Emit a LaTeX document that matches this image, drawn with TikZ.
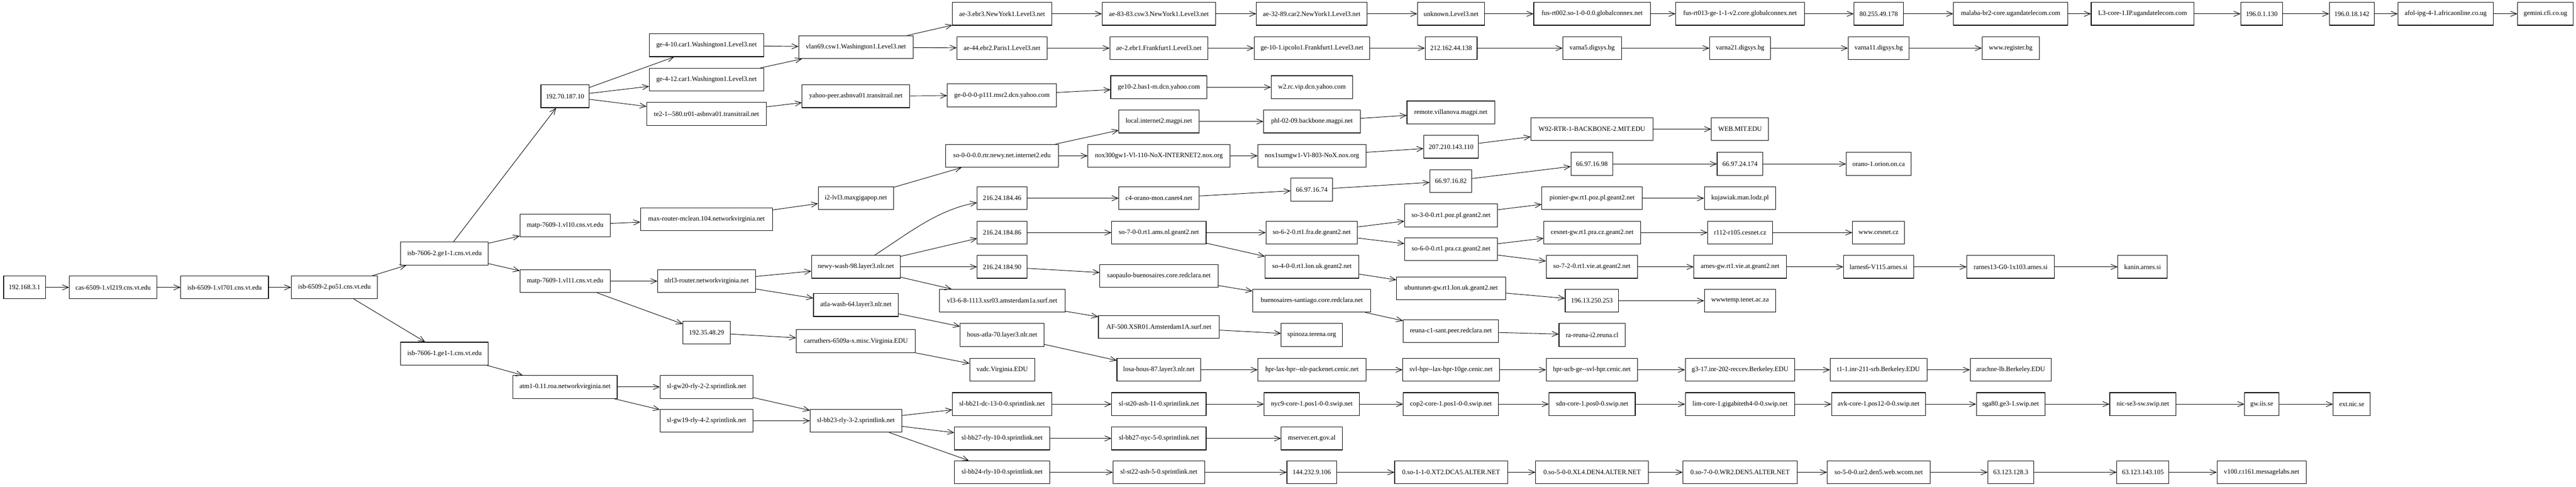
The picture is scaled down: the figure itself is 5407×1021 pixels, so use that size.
\documentclass[tikz,border=0pt]{standalone}
\usepackage{fontspec}
\setmainfont{Liberation Serif}
\usetikzlibrary{arrows.meta}
\tikzset{
  nd/.style={draw, line width=1.2pt, minimum height=48pt, inner sep=2pt, font=\fontsize{14}{16}\selectfont},
  edge/.style={line width=1pt, -{Straight Barb[length=13pt,width=11pt,line width=1pt]}}
}
\newcommand\mynode[5]{\node[nd,minimum width=#4pt] (#1) at (#2,#3) {#5};}
\begin{document}
\begin{tikzpicture}[x=1pt,y=-1pt]
\useasboundingbox (0,0) rectangle (5407,1021);
% column 1-4
\mynode{a1}{51.6}{603}{88}{192.168.3.1}
\mynode{a2}{237.5}{603}{184}{cas-6509-1.vl219.cns.vt.edu}
\mynode{a3}{471.4}{603}{184}{isb-6509-1.vl701.cns.vt.edu}
\mynode{a4}{702}{603}{181}{isb-6509-2.po51.cns.vt.edu}
\mynode{b1}{933}{532}{184}{isb-7606-2.ge1-1.cns.vt.edu}
\mynode{b2}{933}{742}{184}{isb-7606-1.ge1-1.cns.vt.edu}
\mynode{c1}{1186}{202}{101}{192.70.187.10}
\mynode{c2}{1186}{473}{189}{matp-7609-1.vl10.cns.vt.edu}
\mynode{c3}{1186}{590}{189}{matp-7609-1.vl11.cns.vt.edu}
\mynode{c4}{1186}{812}{219}{atm1-0.11.roa.networkvirginia.net}
\mynode{d1}{1483}{95}{240}{ge-4-10.car1.Washington1.Level3.net}
\mynode{d2}{1483}{167}{240}{ge-4-12.car1.Washington1.Level3.net}
\mynode{d3}{1483}{239}{251}{te2-1-{}-580.tr01-asbnva01.transitrail.net}
\mynode{d4}{1483}{460}{277}{max-router-mclean.104.networkvirginia.net}
\mynode{d5}{1483}{590}{205}{nlrl3-router.networkvirginia.net}
\mynode{d6}{1483}{698}{99}{192.35.48.29}
\mynode{d7}{1483}{812}{195}{sl-gw20-rly-2-2.sprintlink.net}
\mynode{d8}{1483}{883}{195}{sl-gw19-rly-4-2.sprintlink.net}
\mynode{e1}{1796.5}{99}{240}{vlan69.csw1.Washington1.Level3.net}
\mynode{e2}{1796.5}{202}{226}{yahoo-peer.asbnva01.transitrail.net}
\mynode{e3}{1796.5}{416}{158}{i2-lvl3.maxgigapop.net}
\mynode{e4}{1796.5}{560}{186}{newy-wash-98.layer3.nlr.net}
\mynode{e5}{1796.5}{640}{178}{atla-wash-64.layer3.nlr.net}
\mynode{e6}{1796.5}{716}{250}{carruthers-6509a-x.misc.Virginia.EDU}
\mynode{e7}{1796.5}{883}{192}{sl-bb23-rly-3-2.sprintlink.net}
% column f
\mynode{f1}{2103.3}{29}{208}{ae-3.ebr3.NewYork1.Level3.net}
\mynode{f2}{2103}{101}{189}{ae-44.ebr2.Paris1.Level3.net}
\mynode{f3}{2103}{200}{229}{ge-0-0-0-p111.msr2.dcn.yahoo.com}
\mynode{f4}{2103}{327}{237}{so-0-0-0.0.rtr.newy.net.internet2.edu}
\mynode{f5}{2103.3}{416}{104}{216.24.184.46}
\mynode{f6}{2103.3}{488}{104}{216.24.184.86}
\mynode{f7}{2103.3}{560}{104}{216.24.184.90}
\mynode{f8}{2103.5}{631}{264}{vl3-6-8-1113.xsr03.amsterdam1a.surf.net}
\mynode{f9}{2103.3}{703}{176}{hous-atla-70.layer3.nlr.net}
\mynode{f10}{2103.5}{776}{136}{vadc.Virginia.EDU}
\mynode{f11}{2103.3}{848}{208}{sl-bb21-dc-13-0-0.sprintlink.net}
\mynode{f12}{2103.3}{920}{200}{sl-bb27-rly-10-0.sprintlink.net}
\mynode{f13}{2103.3}{991}{200}{sl-bb24-rly-10-0.sprintlink.net}
% column g
\mynode{g1}{2432.5}{29}{238}{ae-83-83.csw3.NewYork1.Level3.net}
\mynode{g2}{2432.5}{101}{206}{ae-2.ebr1.Frankfurt1.Level3.net}
\mynode{g3}{2432.5}{183}{202}{ge10-2.bas1-m.dcn.yahoo.com}
\mynode{g4}{2432.5}{255}{168}{local.internet2.magpi.net}
\mynode{g5}{2432.5}{327}{298}{nox300gw1-Vl-110-NoX-INTERNET2.nox.org}
\mynode{g6}{2432.5}{416}{168}{c4-orano-mon.canet4.net}
\mynode{g7}{2432.5}{488}{198}{so-7-0-0.rt1.ams.nl.geant2.net}
\mynode{g8}{2432.5}{579}{248}{saopaulo-buenosaires.core.redclara.net}
\mynode{g9}{2432.5}{686}{254}{AF-500.XSR01.Amsterdam1A.surf.net}
\mynode{g10}{2432.5}{776}{176}{losa-hous-87.layer3.nlr.net}
\mynode{g11}{2432.5}{848}{198}{sl-st20-ash-11-0.sprintlink.net}
\mynode{g12}{2432.5}{920}{198}{sl-bb27-nyc-5-0.sprintlink.net}
\mynode{g13}{2432.5}{991}{192}{sl-st22-ash-5-0.sprintlink.net}
% column h
\mynode{h1}{2753.3}{29}{232}{ae-32-89.car2.NewYork1.Level3.net}
\mynode{h2}{2753.8}{101}{243}{ge-10-1.ipcolo1.Frankfurt1.Level3.net}
\mynode{h3}{2753.8}{183}{171}{w2.rc.vip.dcn.yahoo.com}
\mynode{h4}{2753.8}{255}{203}{phl-02-09.backbone.magpi.net}
\mynode{h5}{2753.8}{327}{227}{nox1sumgw1-Vl-803-NoX.nox.org}
\mynode{h6}{2753.3}{398}{88}{66.97.16.74}
\mynode{h7}{2753.3}{488}{192}{so-6-2-0.rt1.fra.de.geant2.net}
\mynode{h8}{2753.8}{560}{197}{so-4-0-0.rt1.lon.uk.geant2.net}
\mynode{h9}{2753.3}{631}{248}{buenosaires-santiago.core.redclara.net}
\mynode{h10}{2753.3}{703}{128}{spinoza.terena.org}
\mynode{h11}{2753.8}{776}{227}{hpr-lax-hpr-{}-nlr-packenet.cenic.net}
\mynode{h12}{2753.3}{848}{200}{nyc9-core-1.pos1-0-0.swip.net}
\mynode{h13}{2753.3}{920}{128}{mserver.ert.gov.al}
\mynode{h14}{2753.3}{991}{104}{144.232.9.106}
% column i
\mynode{i1}{3045.8}{29}{141}{unknown.Level3.net}
\mynode{i2}{3045.8}{101}{109}{212.162.44.138}
\mynode{i3}{3045.3}{236}{184}{remote.villanova.magpi.net}
\mynode{i4}{3045.8}{308}{115}{207.210.143.110}
\mynode{i5}{3045.3}{380}{88}{66.97.16.82}
\mynode{i6}{3045.8}{452}{195}{so-3-0-0.rt1.poz.pl.geant2.net}
\mynode{i7}{3045.8}{523}{195}{so-6-0-0.rt1.pra.cz.geant2.net}
\mynode{i8}{3045.8}{605}{229}{ubuntunet-gw.rt1.lon.uk.geant2.net}
\mynode{i9}{3045.3}{695}{200}{reuna-c1-sant.peer.redclara.net}
\mynode{i10}{3045.8}{776}{203}{svl-hpr-{}-lax-hpr-10ge.cenic.net}
\mynode{i11}{3045.3}{848}{200}{cop2-core-1.pos1-0-0.swip.net}
\mynode{i12}{3045.8}{991}{237}{0.so-1-1-0.XT2.DCA5.ALTER.NET}
% column j
\mynode{j1}{3341.8}{29}{245}{fus-rt002.so-1-0-0.0.globalconnex.net}
\mynode{j2}{3341.8}{101}{123}{varna5.digsys.bg}
\mynode{j3}{3341.3}{271}{256}{W92-RTR-1-BACKBONE-2.MIT.EDU}
\mynode{j4}{3341.3}{344}{88}{66.97.16.98}
\mynode{j5}{3341.8}{416}{211}{pionier-gw.rt1.poz.pl.geant2.net}
\mynode{j6}{3341.8}{488}{203}{cesnet-gw.rt1.pra.cz.geant2.net}
\mynode{j7}{3341.3}{560}{192}{so-7-2-0.rt1.vie.at.geant2.net}
\mynode{j8}{3341.3}{631}{112}{196.13.250.253}
\mynode{j9}{3341.8}{703}{139}{ra-reuna-i2.reuna.cl}
\mynode{j10}{3341.3}{776}{192}{hpr-ucb-ge-{}-svl-hpr.cenic.net}
\mynode{j11}{3341.8}{848}{181}{sdn-core-1.pos0-0.swip.net}
\mynode{j12}{3341.8}{991}{237}{0.so-5-0-0.XL4.DEN4.ALTER.NET}
% column k
\mynode{k1}{3652.3}{29}{270}{fus-rt013-ge-1-1-v2.core.globalconnex.net}
\mynode{k2}{3652.5}{101}{128}{varna21.digsys.bg}
\mynode{k3}{3652.3}{271}{120}{WEB.MIT.EDU}
\mynode{k4}{3652.3}{344}{96}{66.97.24.174}
\mynode{k5}{3652.3}{416}{150}{kujawiak.man.lodz.pl}
\mynode{k6}{3652.5}{488}{136}{r112-r105.cesnet.cz}
\mynode{k7}{3652.3}{560}{194}{arnes-gw.rt1.vie.at.geant2.net}
\mynode{k8}{3652.3}{631}{150}{wwwtemp.tenet.ac.za}
\mynode{k9}{3652.3}{776}{230}{g3-17.inr-202-reccev.Berkeley.EDU}
\mynode{k10}{3652.3}{848}{230}{lim-core-1.gigabiteth4-0-0.swip.net}
\mynode{k11}{3652.3}{991}{240}{0.so-7-0-0.WR2.DEN5.ALTER.NET}
% column l
\mynode{l1}{3943.3}{29}{104}{80.255.49.178}
\mynode{l2}{3943.3}{101}{128}{varna11.digsys.bg}
\mynode{l3}{3943.3}{344}{136}{orano-1.orion.on.ca}
\mynode{l4}{3943}{488}{109}{www.cesnet.cz}
\mynode{l5}{3943}{560}{147}{larnes6-V115.arnes.si}
\mynode{l6}{3943}{776}{203}{t1-1.inr-211-srb.Berkeley.EDU}
\mynode{l7}{3943}{848}{197}{avk-core-1.pos12-0-0.swip.net}
\mynode{l8}{3943.3}{991}{216}{so-5-0-0.ur2.den5.web.wcom.net}
% column m
\mynode{m1}{4220.3}{29}{240}{malaba-br2-core.ugandatelecom.com}
\mynode{m2}{4220.3}{101}{120}{www.register.bg}
\mynode{m3}{4220.3}{560}{184}{rarnes13-G0-1x103.arnes.si}
\mynode{m4}{4220.3}{776}{170}{arachne-lb.Berkeley.EDU}
\mynode{m5}{4220.3}{848}{144}{sga80.ge3-1.swip.net}
\mynode{m6}{4220.5}{991}{96}{63.123.128.3}
% column n
\mynode{n1}{4497.3}{29}{216}{L3-core-1.IP.ugandatelecom.com}
\mynode{n2}{4497.3}{560}{104}{kanin.arnes.si}
\mynode{n3}{4497.8}{848}{139}{nic-se3-sw.swip.net}
\mynode{n4}{4497.8}{991}{109}{63.123.143.105}
% columns o-r
\mynode{o1}{4747.3}{29}{88}{196.0.1.130}
\mynode{o2}{4747.3}{848}{72}{gw.iis.se}
\mynode{o3}{4747}{991}{187}{v100.r.t161.messagelabs.net}
\mynode{p1}{4936.3}{29}{94}{196.0.18.142}
\mynode{p2}{4936.3}{848}{78}{ext.nic.se}
\mynode{q1}{5133.3}{29}{200}{afol-ipg-4-1.africaonline.co.ug}
\mynode{r1}{5342.8}{29}{117}{gemini.cfi.co.ug}
% edges
\foreach \s/\t in {a1/a2,a2/a3,a3/a4,a4/b1,a4/b2,
  b1/c1,b1/c2,b1/c3,b2/c4,
  c1/d1,c1/d2,c1/d3,c2/d4,c3/d5,c3/d6,c4/d7,c4/d8,
  d1/e1,d2/e1,d3/e2,d4/e3,d5/e4,d5/e5,d6/e6,d7/e7,d8/e7,
  e1/f1,e1/f2,e2/f3,e3/f4,e4/f6,e4/f7,e4/f8,e5/f9,e6/f10,e7/f11,e7/f12,e7/f13,
  f1/g1,f2/g2,f3/g3,f4/g4,f4/g5,f5/g6,f6/g7,f7/g8,f8/g9,f9/g10,f11/g11,f12/g12,f13/g13,
  g1/h1,g2/h2,g3/h3,g4/h4,g5/h5,g6/h6,g7/h7,g7/h8,g8/h9,g9/h10,g10/h11,g11/h12,g12/h13,g13/h14,
  h1/i1,h2/i2,h4/i3,h5/i4,h6/i5,h7/i6,h7/i7,h8/i8,h9/i9,h11/i10,h12/i11,h14/i12,
  i1/j1,i2/j2,i4/j3,i5/j4,i6/j5,i7/j6,i7/j7,i8/j8,i9/j9,i10/j10,i11/j11,i12/j12,
  j1/k1,j2/k2,j3/k3,j4/k4,j5/k5,j6/k6,j7/k7,j8/k8,j10/k9,j11/k10,j12/k11,
  k1/l1,k2/l2,k4/l3,k6/l4,k7/l5,k9/l6,k10/l7,k11/l8,
  l1/m1,l2/m2,l5/m3,l6/m4,l7/m5,l8/m6,
  m1/n1,m3/n2,m5/n3,m6/n4,
  n1/o1,n3/o2,n4/o3,
  o1/p1,o2/p2,
  p1/q1,q1/r1}
  \draw[edge] (\s) -- (\t);
\draw[edge] (e4) .. controls (1900,495) and (1965,440) .. (f5);
\end{tikzpicture}
\end{document}
